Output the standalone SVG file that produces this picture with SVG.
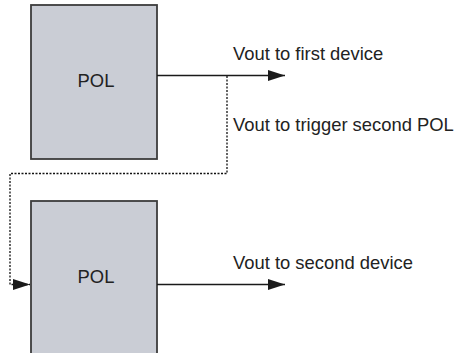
<svg xmlns="http://www.w3.org/2000/svg" width="457" height="353" viewBox="0 0 457 353">
  <style>
    .box { fill: #cacdd5; stroke: #3c3c3c; stroke-width: 1.8; }
    .lbl { font-family: "Liberation Sans", Arial, sans-serif; font-size: 18.4px; fill: #222; }
    .wire { fill: none; stroke: #1a1a1a; stroke-width: 1.3; }
    .dot { fill: none; stroke: #111; stroke-width: 1.3; stroke-dasharray: 2 1.5; }
  </style>
  <defs>
    <marker id="arrow" viewBox="0 0 17 11" refX="17" refY="5.5" markerWidth="17" markerHeight="11" markerUnits="userSpaceOnUse" orient="auto">
      <path d="M0,0 L17,5.5 L0,11 Z" fill="#1a1a1a"/>
    </marker>
  </defs>

  <g id="pol1">
    <rect class="box" x="31" y="5" width="126" height="154"/>
    <text class="lbl" x="96" y="86.5" text-anchor="middle">POL</text>
  </g>

  <g id="pol2">
    <rect class="box" x="31" y="201" width="126" height="170"/>
    <text class="lbl" x="96" y="283" text-anchor="middle">POL</text>
  </g>

  <g id="connectors">
    <path class="wire" d="M157,75.5 H285" marker-end="url(#arrow)"/>
    <path class="wire" d="M157,284.5 H285" marker-end="url(#arrow)"/>
    <path class="dot" d="M227,76 V173.5 H10 V284.5 H30" marker-end="url(#arrow)"/>
  </g>

  <g id="labels">
    <text class="lbl" x="233" y="60">Vout to first device</text>
    <text class="lbl" x="233" y="130.5">Vout to trigger second POL</text>
    <text class="lbl" x="233" y="268.5">Vout to second device</text>
  </g>
</svg>
